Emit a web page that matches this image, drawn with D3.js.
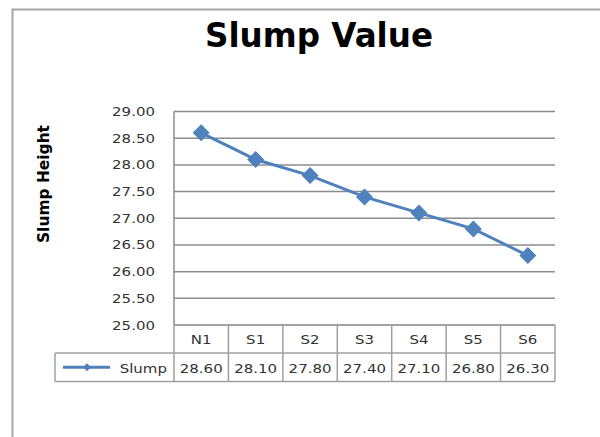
<!DOCTYPE html>
<html>
<head>
<meta charset="utf-8">
<script src="https://cdn.jsdelivr.net/npm/d3@7"></script>
<style>
  body { margin: 0; background: #fff; }
  svg { display: block; }
  text { font-family: "DejaVu Sans", Verdana, sans-serif; }
</style>
</head>
<body>
<svg id="chart" width="600" height="437"></svg>
<script>
// Données
const categories = ["N1", "S1", "S2", "S3", "S4", "S5", "S6"];
const slumpValues = [28.60, 28.10, 27.80, 27.40, 27.10, 26.80, 26.30];
const yTicks = [25.0, 25.5, 26.0, 26.5, 27.0, 27.5, 28.0, 28.5, 29.0];
const seriesName = "Slump";

const blue = "#4f81bd";
const gridColor = "#8c8c8c";
const tableColor = "#a0a0a0";
const textColor = "#333";
const stretch = 1.2; // l'image d'origine est étirée en largeur

const svg = d3.select("#chart");

// texte étiré horizontalement
function wideText(g, px, py, str, anchor, size) {
    return g.append("text")
        .attr("transform", `translate(${px},${py}) scale(${stretch},1)`)
        .attr("text-anchor", anchor)
        .attr("font-size", size)
        .attr("fill", textColor)
        .text(str);
}

// cadre extérieur
svg.append("rect")
    .attr("x", 12.5).attr("y", 9.5)
    .attr("width", 620).attr("height", 500)
    .attr("fill", "none")
    .attr("stroke", "#a6a6a6")
    .attr("stroke-width", 2);

// titre
svg.append("text")
    .attr("x", 319).attr("y", 47)
    .attr("text-anchor", "middle")
    .attr("font-size", 33)
    .attr("font-weight", "bold")
    .attr("fill", "#000")
    .attr("textLength", 228)
    .attr("lengthAdjust", "spacingAndGlyphs")
    .text("Slump Value");

const plot = { left: 174, right: 555, top: 111.5, bottom: 325 };

const x = d3.scaleBand()
    .domain(categories)
    .range([plot.left, plot.right]);

const y = d3.scaleLinear()
    .domain([25, 29])
    .range([plot.bottom, plot.top]);

// grille horizontale
svg.append("g")
    .selectAll("line")
    .data(yTicks)
    .join("line")
    .attr("x1", plot.left).attr("x2", plot.right)
    .attr("y1", d => y(d)).attr("y2", d => y(d))
    .attr("stroke", gridColor)
    .attr("stroke-width", 1.5);

// axe vertical
svg.append("line")
    .attr("x1", plot.left).attr("x2", plot.left)
    .attr("y1", plot.top).attr("y2", plot.bottom)
    .attr("stroke", gridColor)
    .attr("stroke-width", 1.5);

// étiquettes de l'axe Y
const yLabels = svg.append("g");
yTicks.forEach(t => wideText(yLabels, 155, y(t) + 4.5, d3.format(".2f")(t), "end", 12.5));

// titre de l'axe Y
svg.append("text")
    .attr("transform", "translate(49,184) rotate(-90)")
    .attr("text-anchor", "middle")
    .attr("font-size", 15)
    .attr("font-weight", "bold")
    .attr("fill", "#000")
    .attr("textLength", 118)
    .attr("lengthAdjust", "spacingAndGlyphs")
    .text("Slump Height");

// ligne de la série
const cx = i => x(categories[i]) + x.bandwidth() / 2;
const line = d3.line()
    .x((d, i) => cx(i))
    .y(d => y(d));

svg.append("path")
    .datum(slumpValues)
    .attr("d", line)
    .attr("fill", "none")
    .attr("stroke", blue)
    .attr("stroke-width", 3);

const diamond = (r) => `M0,${-r}L${r},0L0,${r}L${-r},0Z`;

svg.append("g")
    .selectAll("path")
    .data(slumpValues)
    .join("path")
    .attr("transform", (d, i) => `translate(${cx(i)},${y(d)})`)
    .attr("d", diamond(8.5))
    .attr("fill", blue);

// table de données
const headerTop = plot.bottom;
const rowMid = 353;
const rowBottom = 381.5;
const legendLeft = 55;

const table = svg.append("g")
    .attr("stroke", tableColor)
    .attr("stroke-width", 1.5)
    .attr("fill", "none");

table.append("line")
    .attr("x1", plot.left).attr("x2", plot.right)
    .attr("y1", headerTop).attr("y2", headerTop);
table.append("line")
    .attr("x1", legendLeft).attr("x2", plot.right)
    .attr("y1", rowMid).attr("y2", rowMid);
table.append("line")
    .attr("x1", legendLeft).attr("x2", plot.right)
    .attr("y1", rowBottom).attr("y2", rowBottom);

const colEdges = categories.map(c => x(c)).concat([plot.right]);
table.selectAll("line.col")
    .data(colEdges)
    .join("line")
    .attr("class", "col")
    .attr("x1", d => d).attr("x2", d => d)
    .attr("y1", headerTop).attr("y2", rowBottom);
table.append("line")
    .attr("x1", legendLeft).attr("x2", legendLeft)
    .attr("y1", rowMid).attr("y2", rowBottom);

// en-têtes et valeurs
const cells = svg.append("g");
categories.forEach((c, i) => wideText(cells, cx(i), headerTop + 19, c, "middle", 12.5));
slumpValues.forEach((v, i) => wideText(cells, cx(i), rowMid + 20, d3.format(".2f")(v), "middle", 12.5));

// légende dans la table
const legY = (rowMid + rowBottom) / 2;
svg.append("line")
    .attr("x1", 63).attr("x2", 110)
    .attr("y1", legY).attr("y2", legY)
    .attr("stroke", blue)
    .attr("stroke-width", 3);
svg.append("path")
    .attr("transform", `translate(87,${legY})`)
    .attr("d", diamond(4))
    .attr("fill", blue);
wideText(svg, 167, rowMid + 20, seriesName, "end", 12.5);
</script>
</body>
</html>
